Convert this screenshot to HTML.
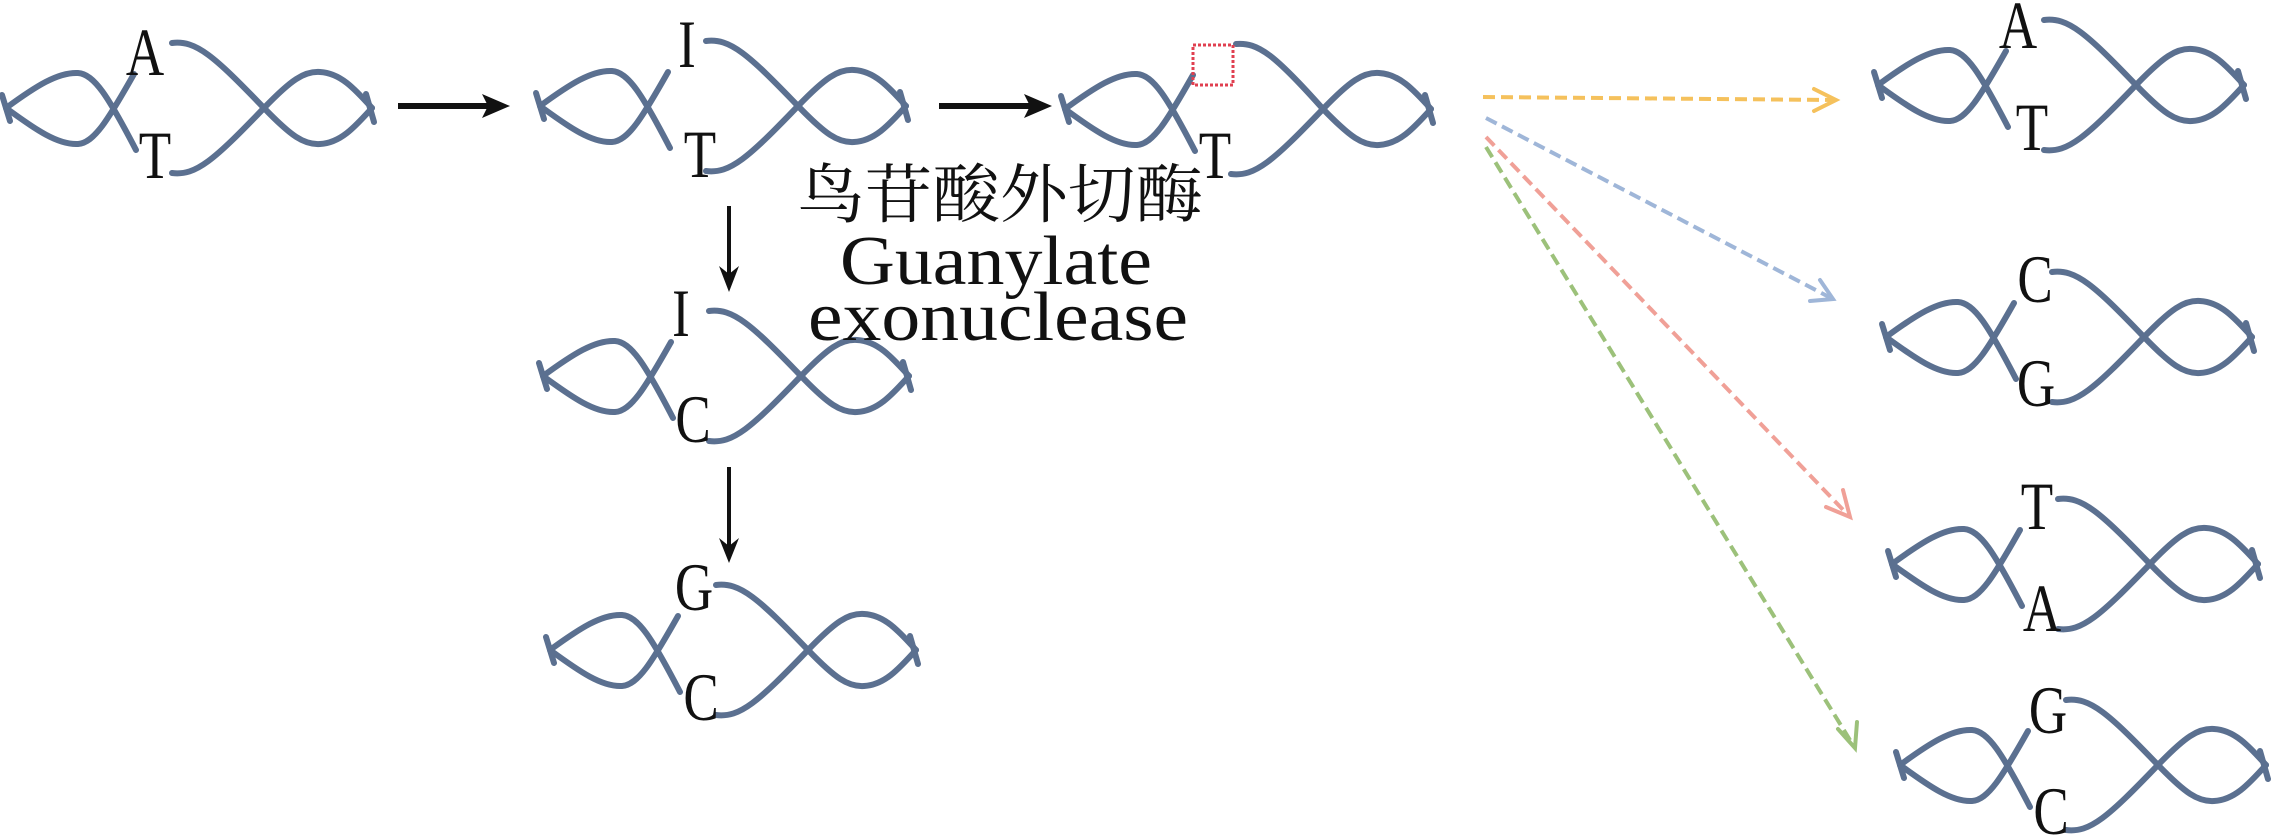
<!DOCTYPE html>
<html><head><meta charset="utf-8"><style>
html,body{margin:0;padding:0;background:#fff;width:2272px;height:839px;overflow:hidden}
svg{display:block}
.s{fill:none;stroke:#5b7090;stroke-width:6;stroke-linecap:round}
.l{font-family:"Liberation Serif",serif;font-size:68px;fill:#111;text-anchor:middle}
</style></head><body>
<svg width="2272" height="839" viewBox="0 0 2272 839" xmlns="http://www.w3.org/2000/svg">
<defs>
<g id="hx">
<path class="s" d="M0,0 C30,-22 52,-36 72,-35 C88,-34 102,-12 130,42"/>
<path class="s" d="M0,0 C30,22 52,37 72,36 C88,35 102,12 128,-34"/>
<path class="s" d="M-4,-13 L4,13"/>
<path class="s" d="M166,65 C190,68 208,52 258,0 C285,-28 298,-37 314,-36 C334,-35 348,-20 366,0"/>
<path class="s" d="M360,-14 L368,14"/>
</g>
<g id="hxt"><path class="s" d="M166,-65 C190,-68 208,-52 258,0 C285,28 298,37 314,36 C334,35 348,20 366,0"/></g>
</defs>
<use href="#hx" x="6" y="108"/><use href="#hxt" x="6" y="108"/>
<text class="l" transform="translate(145,75) scale(0.78,1)">A</text>
<text class="l" transform="translate(155,178) scale(0.78,1)">T</text>
<use href="#hx" x="540" y="106"/><use href="#hxt" x="540" y="106"/>
<text class="l" transform="translate(687,67) scale(0.78,1)">I</text>
<text class="l" transform="translate(700,177) scale(0.78,1)">T</text>
<use href="#hx" x="1065" y="109"/>
<path class="s" d="M1236,44 C1258,42 1275,55 1323,109 C1350,137 1363,146 1379,145 C1399,144 1413,129 1431,109"/>
<rect x="1193" y="45" width="40" height="40" fill="none" stroke="#e04050" stroke-width="3" stroke-dasharray="3,2"/>
<text class="l" transform="translate(1215,178) scale(0.78,1)">T</text>
<use href="#hx" x="543" y="376"/><use href="#hxt" x="543" y="376"/>
<text class="l" transform="translate(681,336) scale(0.78,1)">I</text>
<text class="l" transform="translate(693,442) scale(0.78,1)">C</text>
<use href="#hx" x="550" y="650"/><use href="#hxt" x="550" y="650"/>
<text class="l" transform="translate(694,610) scale(0.78,1)">G</text>
<text class="l" transform="translate(701,720) scale(0.78,1)">C</text>
<use href="#hx" x="1878" y="85"/><use href="#hxt" x="1878" y="85"/>
<text class="l" transform="translate(2018,48) scale(0.78,1)">A</text>
<text class="l" transform="translate(2032,150) scale(0.78,1)">T</text>
<use href="#hx" x="1886" y="337"/><use href="#hxt" x="1886" y="337"/>
<text class="l" transform="translate(2035,302) scale(0.78,1)">C</text>
<text class="l" transform="translate(2036,406) scale(0.78,1)">G</text>
<use href="#hx" x="1892" y="564"/><use href="#hxt" x="1892" y="564"/>
<text class="l" transform="translate(2037,529) scale(0.78,1)">T</text>
<text class="l" transform="translate(2042,631) scale(0.78,1)">A</text>
<use href="#hx" x="1900" y="765"/><use href="#hxt" x="1900" y="765"/>
<text class="l" transform="translate(2048,733) scale(0.78,1)">G</text>
<text class="l" transform="translate(2051,834) scale(0.78,1)">C</text>
<line x1="398" y1="106" x2="500" y2="106" stroke="#111" stroke-width="6"/>
<path d="M482,94 L510,106 L482,118 L488,106 Z" fill="#111"/>
<line x1="939" y1="106" x2="1042" y2="106" stroke="#111" stroke-width="6"/>
<path d="M1024,94 L1052,106 L1024,118 L1030,106 Z" fill="#111"/>
<line x1="729" y1="206" x2="729" y2="282" stroke="#111" stroke-width="4"/>
<path d="M719,266 L729,292 L739,266 L729,274 Z" fill="#111"/>
<line x1="729" y1="467" x2="729" y2="552" stroke="#111" stroke-width="4"/>
<path d="M719,538 L729,563 L739,538 L729,546 Z" fill="#111"/>
<g fill="none" stroke-width="4" stroke-dasharray="12,6">
<line x1="1483" y1="97" x2="1834" y2="100" stroke="#f5c15c"/>
<line x1="1486" y1="118" x2="1831" y2="298" stroke="#9fb6d8"/>
<line x1="1486" y1="137" x2="1848" y2="515" stroke="#f0a097"/>
<line x1="1486" y1="147" x2="1853" y2="745" stroke="#9cc17a"/>
</g>
<g fill="none" stroke-width="4" stroke-linecap="round">
<path d="M1814,89 L1836,100 L1814,111" stroke="#f5c15c"/>
<path d="M1820,280 L1833,299 L1810,301" stroke="#9fb6d8"/>
<path d="M1843,490 L1850,517 L1826,507" stroke="#f0a097"/>
<path d="M1857,722 L1855,748 L1838,729" stroke="#9cc17a"/>
</g>
<text x="797" y="217" textLength="406" lengthAdjust="spacingAndGlyphs" style="font-family:'Liberation Serif','Noto Serif CJK SC',serif;font-size:64px;fill:#111">鸟苷酸外切酶</text>
<text x="840" y="284" textLength="312" lengthAdjust="spacingAndGlyphs" style="font-family:'Liberation Serif',serif;font-size:70px;fill:#111">Guanylate</text>
<text x="808" y="340" textLength="380" lengthAdjust="spacingAndGlyphs" style="font-family:'Liberation Serif',serif;font-size:70px;fill:#111">exonuclease</text>
</svg>
</body></html>
